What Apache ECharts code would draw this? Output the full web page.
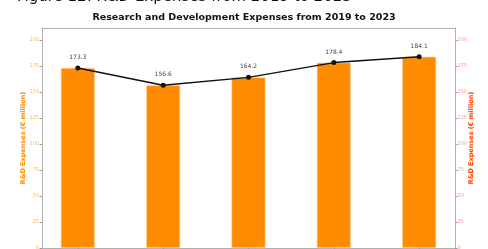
<!DOCTYPE html>
<html>
<head>
<meta charset="utf-8">
<script src="https://cdn.jsdelivr.net/npm/echarts@6/dist/echarts.min.js"></script>
<style>
  html, body { margin: 0; padding: 0; background: #fff; }
  #main { width: 488px; height: 249px; }
</style>
</head>
<body>
<div id="main"></div>
<script>
// data
const years = ['2019', '2020', '2021', '2022', '2023']
const expenses = [173.3, 156.6, 164.2, 178.4, 184.1]
const yTicks = [0, 25, 50, 75, 100, 125, 150, 175, 200]

const yMax = Math.max(...expenses) * 1.15
const pts = expenses.map((v, i) => [i, v])

const chart = echarts.init(document.getElementById('main'))

const yAxisBase = {
  type: 'value',
  min: 0,
  max: yMax,
  nameLocation: 'middle',
  nameRotate: 90,
  nameMoveOverlap: false,
  nameTextStyle: { fontFamily: 'DejaVu Sans', fontWeight: 'bold', fontSize: 6.5 },
  axisLine: { show: true, onZero: false, lineStyle: { color: '#b0b0b0', width: 1 } },
  axisTick: { show: true, length: 2.5, customValues: yTicks, lineStyle: { color: '#999' } },
  splitLine: { show: false },
}

chart.setOption({
  animation: false,
  title: {
    text: 'Research and Development Expenses from 2019 to 2023',
    left: 'center', top: 8,
    textStyle: { fontFamily: 'DejaVu Sans', fontWeight: 'bold', fontSize: 9.5, color: '#111' }
  },
  // figure caption above the chart, mostly cut off by the top edge
  graphic: [{
    type: 'text',
    x: 17, y: -10,
    style: { text: 'Figure 12: R&D Expenses from 2019 to 2023', font: '15px "DejaVu Sans"', fill: '#111' }
  }],
  grid: { left: 42, right: 33, top: 28, bottom: 1, outerBoundsMode: 'none', containLabel: false },
  xAxis: [{
    type: 'value',
    min: -0.42,
    max: 4.42,
    axisLine: { show: true, onZero: false, lineStyle: { color: '#b0b0b0' } },
    axisTick: { show: true, length: 2, customValues: [0, 1, 2, 3, 4], lineStyle: { color: '#999' } },
    axisLabel: { show: false, customValues: [0, 1, 2, 3, 4], formatter: v => years[Math.round(v)] },
    splitLine: { show: false }
  }, {
    type: 'value', position: 'top', min: -0.42, max: 4.42,
    axisLine: { show: true, onZero: false, lineStyle: { color: '#b0b0b0' } },
    axisTick: { show: false }, axisLabel: { show: false }, splitLine: { show: false }
  }],
  yAxis: [
    Object.assign({}, yAxisBase, {
      position: 'left',
      name: 'R&D Expenses (€ million)',
      nameGap: 15,
      nameTextStyle: Object.assign({}, yAxisBase.nameTextStyle, { color: '#ff8c00' }),
      axisLabel: { color: '#ffb45a', fontSize: 5, fontFamily: 'DejaVu Sans', margin: 3,
        customValues: yTicks }
    }),
    Object.assign({}, yAxisBase, {
      position: 'right',
      name: 'R&D Expenses (€ million)',
      nameGap: 13,
      nameTextStyle: Object.assign({}, yAxisBase.nameTextStyle, { color: '#ff4500' }),
      axisLabel: { color: '#ff9a80', fontSize: 5, fontFamily: 'DejaVu Sans', margin: 2.5,
        customValues: yTicks }
    })
  ],
  series: [
    {
      type: 'bar',
      data: pts,
      barWidth: 34,
      itemStyle: { color: '#ff8c00', borderColor: '#ffd9a8', borderWidth: 0.6 }
    },
    {
      type: 'line',
      yAxisIndex: 1,
      data: pts,
      symbol: 'circle',
      symbolSize: 5,
      lineStyle: { color: '#111', width: 1.5 },
      itemStyle: { color: '#111' },
      label: {
        show: true, position: 'top', distance: 5,
        fontSize: 6, fontFamily: 'DejaVu Sans', color: '#444',
        formatter: p => p.value[1].toFixed(1)
      },
      z: 5
    }
  ]
})
</script>
</body>
</html>
